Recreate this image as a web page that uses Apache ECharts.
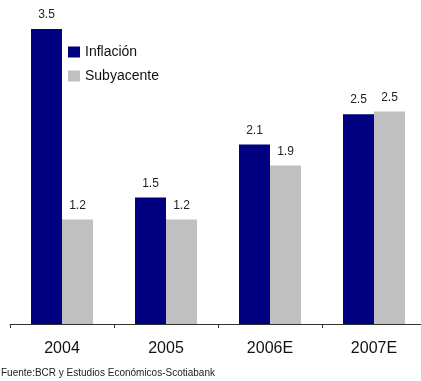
<!DOCTYPE html>
<html><head><meta charset="utf-8">
<script src="https://cdn.jsdelivr.net/npm/echarts@6/dist/echarts.min.js"></script>
<style>html,body{margin:0;padding:0;background:#fff}#c{width:421px;height:381px}</style>
</head><body><div id="c"></div>
<script>
var categories = ['2004', '2005', '2006E', '2007E'];
var inflacion = [3.5, 1.5, 2.13, 2.49];
var subyacente = [1.24, 1.24, 1.88, 2.52];
var seriesNames = ['Inflación', 'Subyacente'];
var sourceText = 'Fuente:BCR y Estudios Económicos-Scotiabank';

var chart = echarts.init(document.getElementById('c'), null, {renderer: 'canvas'});
var lbl = {show: true, position: 'top', distance: 8, color: '#222', fontSize: 12,
  fontFamily: 'Liberation Sans', formatter: function (p) { return p.value.toFixed(1); }};
chart.setOption({
  animation: false,
  textStyle: {fontFamily: 'Liberation Sans'},
  grid: {left: 10, top: 29, width: 416, height: 295, containLabel: false, outerBoundsMode: 'none'},
  legend: {orient: 'vertical', left: 68, top: 45, padding: 0, itemWidth: 12, itemHeight: 11, itemGap: 10,
    icon: 'rect', textStyle: {fontSize: 14, color: '#111', fontFamily: 'Liberation Sans'},
    data: seriesNames},
  xAxis: {type: 'category', data: categories,
    axisLine: {lineStyle: {color: '#333', width: 1}},
    axisTick: {show: true, length: 4, lineStyle: {color: '#333'}},
    axisLabel: {fontSize: 16, color: '#111', margin: 17}},
  yAxis: {type: 'value', min: 0, max: 3.5, show: false, splitLine: {show: false}},
  series: [
    {name: seriesNames[0], type: 'bar', data: inflacion, barWidth: 31, barGap: '0%',
      itemStyle: {color: '#000080'}, label: lbl},
    {name: seriesNames[1], type: 'bar', data: subyacente, barWidth: 31,
      itemStyle: {color: '#C0C0C0'}, label: lbl}
  ],
  graphic: [{type: 'text', left: 1, top: 368,
    style: {text: sourceText, fontSize: 10, fill: '#222', fontFamily: 'Liberation Sans'}}]
});
</script></body></html>
